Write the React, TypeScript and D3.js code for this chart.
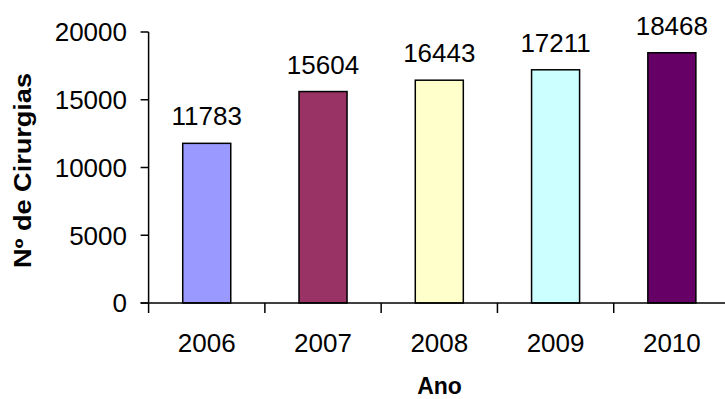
import React from "react";
import * as d3 from "d3";

const years = ["2006", "2007", "2008", "2009", "2010"];
const values = [11783, 15604, 16443, 17211, 18468];
const colors = ["#9999FF", "#993366", "#FFFFCC", "#CCFFFF", "#660066"];
const yTicks = [0, 5000, 10000, 15000, 20000];

const W = 725;
const H = 399;
const FONT = "'Liberation Sans', Arial, sans-serif";

export default function App() {
  const x0 = 148.6;
  const x1 = 730;
  const yTop = 32;
  const yBot = 303;
  const y = d3.scaleLinear().domain([0, 20000]).range([yBot, yTop]);
  const band = d3.scaleBand<string>().domain(years).range([x0, x1]).paddingInner(0).paddingOuter(0);
  const bars = d3
    .scaleBand<string>()
    .domain(years)
    .range([x0, x1])
    .paddingInner(0.587)
    .paddingOuter(0.587 / 2);
  const boundaries = years.map((yr) => band(yr) as number).concat([x1]);

  return (
    <svg width={W} height={H} style={{ position: "absolute", left: 0, top: 0, background: "#fff" }}>
      <rect x={0} y={0} width={W} height={H} fill="#fff" />
      {years.map((yr, i) => (
        <rect
          key={yr}
          x={bars(yr)}
          y={y(values[i])}
          width={bars.bandwidth()}
          height={yBot - y(values[i])}
          fill={colors[i]}
          stroke="#000"
          strokeWidth={1.5}
        />
      ))}
      {years.map((yr, i) => (
        <text
          key={"v" + yr}
          x={(bars(yr) as number) + bars.bandwidth() / 2}
          y={y(values[i]) - 18}
          textAnchor="middle"
          fontFamily={FONT}
          fontSize={26}
          fill="#000"
        >
          {values[i]}
        </text>
      ))}
      {/* y axis */}
      <line x1={x0} x2={x0} y1={yTop} y2={yBot} stroke="#000" strokeWidth={1.5} />
      {yTicks.map((t) => (
        <g key={"yt" + t}>
          <line x1={x0 - 8} x2={x0} y1={y(t)} y2={y(t)} stroke="#000" strokeWidth={1.5} />
          <text
            x={127}
            y={y(t)}
            dy="0.36em"
            textAnchor="end"
            fontFamily={FONT}
            fontSize={26}
            fill="#000"
          >
            {t}
          </text>
        </g>
      ))}
      {/* x axis */}
      <line x1={x0 - 8} x2={W} y1={yBot} y2={yBot} stroke="#000" strokeWidth={1.5} />
      {boundaries.map((b, i) => (
        <line key={"xt" + i} x1={b} x2={b} y1={yBot} y2={yBot + 10} stroke="#000" strokeWidth={1.5} />
      ))}
      {years.map((yr) => (
        <text
          key={"xl" + yr}
          x={(band(yr) as number) + band.bandwidth() / 2}
          y={352}
          textAnchor="middle"
          fontFamily={FONT}
          fontSize={26}
          fill="#000"
        >
          {yr}
        </text>
      ))}
      <text x={439.5} y={394} textAnchor="middle" fontFamily={FONT} fontSize={23} fontWeight="bold" fill="#000">
        Ano
      </text>
      <text
        transform={`translate(31,170.5) rotate(-90)`}
        textAnchor="middle"
        fontFamily={FONT}
        fontSize={23}
        fontWeight="bold"
        fill="#000"
        textLength={195}
        lengthAdjust="spacingAndGlyphs"
      >
        Nº de Cirurgias
      </text>
    </svg>
  );
}
